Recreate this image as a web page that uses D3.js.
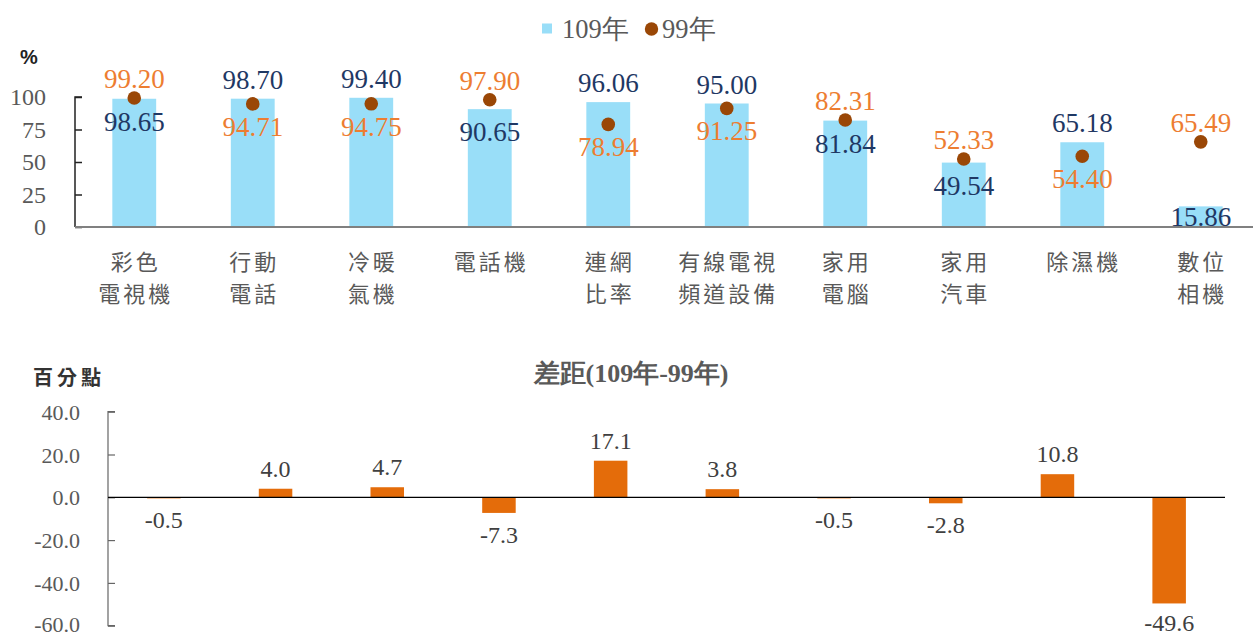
<!DOCTYPE html>
<html><head><meta charset="utf-8">
<script src="https://cdn.jsdelivr.net/npm/d3@7/dist/d3.min.js"></script>
<style>body{margin:0;background:#fff}svg{display:block}</style>
</head><body>
<svg id="c" width="1253" height="637"></svg>
<script>
const categories = [["彩色","電視機"],["行動","電話"],["冷暖","氣機"],["電話機"],["連網","比率"],["有線電視","頻道設備"],["家用","電腦"],["家用","汽車"],["除濕機"],["數位","相機"]];
const values109 = [98.65, 98.70, 99.40, 90.65, 96.06, 95.00, 81.84, 49.54, 65.18, 15.86];
const values99  = [99.20, 94.71, 94.75, 97.90, 78.94, 91.25, 82.31, 52.33, 54.40, 65.49];
const diffs     = [-0.5, 4.0, 4.7, -7.3, 17.1, 3.8, -0.5, -2.8, 10.8, -49.6];
const topTicks = [0, 25, 50, 75, 100];
const bottomTicks = [40, 20, 0, -20, -40, -60];
const seriesNames = ["109年", "99年"];

const svg = d3.select("#c");
const serif = "'Liberation Serif','Times New Roman',serif";
const cjk = "'Noto Sans CJK TC','Noto Sans CJK SC',sans-serif";
const gray = "#595959";
const navy = "#1F3864", orange = "#ED7D31";
const blue = "#99DEF8", brown = "#9A4706", barOrange = "#E46C0A";
const idx = d3.range(categories.length);

// ---------- top chart ----------
const x1 = d3.scaleBand().domain(idx).range([75, 1260]).paddingInner(0.63).paddingOuter(0.315);
const y1 = d3.scaleLinear().domain([0, 100]).range([227, 97]);

const gTop = svg.append("g");
gTop.selectAll("rect.b").data(idx).join("rect")
  .attr("x", i => x1(i)).attr("width", x1.bandwidth())
  .attr("y", i => y1(values109[i])).attr("height", i => y1(0) - y1(values109[i]))
  .attr("fill", blue);
gTop.selectAll("circle.d").data(idx).join("circle")
  .attr("cx", i => x1(i) + x1.bandwidth()/2).attr("cy", i => y1(values99[i]))
  .attr("r", 6.8).attr("fill", brown);

// labels
idx.forEach(i => {
  const cx = x1(i) + x1.bandwidth()/2;
  const barHigher = values109[i] >= values99[i];
  const hi = barHigher ? values109[i] : values99[i];
  const lo = barHigher ? values99[i] : values109[i];
  const hiCol = barHigher ? navy : orange;
  const loCol = barHigher ? orange : navy;
  gTop.append("text").attr("x", cx).attr("y", y1(hi) - 10)
    .attr("text-anchor", "middle").attr("font-family", serif).attr("font-size", 27)
    .attr("fill", hiCol).text(hi.toFixed(2));
  gTop.append("text").attr("x", cx).attr("y", Math.min(y1(lo) + 32, y1(0) - 1))
    .attr("text-anchor", "middle").attr("font-family", serif).attr("font-size", 27)
    .attr("fill", loCol).text(lo.toFixed(2));
});

// axes
const yAxis1 = d3.axisRight(y1).tickValues(topTicks).tickSize(7).tickFormat("");
const ya = gTop.append("g").attr("transform", "translate(75,0)").call(yAxis1);
ya.select(".domain").attr("stroke", "#222").attr("stroke-width", 1.5).attr("d", "M7,97H0V227");
ya.selectAll(".tick line").attr("stroke", "#222").attr("stroke-width", 1.5);
gTop.selectAll("text.yt").data(topTicks).join("text")
  .attr("x", 46).attr("y", d => y1(d) + 8).attr("text-anchor", "end")
  .attr("font-family", serif).attr("font-size", 24).attr("fill", gray).text(d => d);
gTop.append("line").attr("x1", 75).attr("x2", 1253).attr("y1", y1(0)).attr("y2", y1(0))
  .attr("stroke", "#808080").attr("stroke-width", 2);

// category labels
idx.forEach(i => {
  const cx = x1(i) + x1.bandwidth()/2;
  categories[i].forEach((line, k) => {
    gTop.append("text").attr("x", cx + 1.5).attr("y", 270 + k*32)
      .attr("text-anchor", "middle").attr("font-family", cjk).attr("font-size", 22)
      .attr("letter-spacing", 3).attr("fill", gray).text(line);
  });
});

// % label
gTop.append("text").attr("x", 20).attr("y", 64).attr("font-family", "'Liberation Sans',Arial,sans-serif")
  .attr("font-weight", "bold").attr("font-size", 20).attr("fill", "#222").text("%");

// legend
const lg = gTop.append("g");
lg.append("rect").attr("x", 542).attr("y", 23.5).attr("width", 10).attr("height", 10).attr("fill", blue);
lg.append("text").attr("x", 562).attr("y", 38).attr("font-family", serif).attr("font-size", 26.5).attr("fill", gray).text(seriesNames[0]);
lg.append("circle").attr("cx", 651.5).attr("cy", 29).attr("r", 6.7).attr("fill", brown);
lg.append("text").attr("x", 662).attr("y", 38).attr("font-family", serif).attr("font-size", 26.5).attr("fill", gray).text(seriesNames[1]);

// ---------- bottom chart ----------
const x2 = d3.scaleBand().domain(idx).range([108, 1225]).paddingInner(0.7).paddingOuter(0.35);
const y2 = d3.scaleLinear().domain([-60, 40]).range([625.7, 411.7]);
const gBot = svg.append("g");

gBot.append("text").attr("x", 631).attr("y", 382).attr("text-anchor", "middle")
  .attr("font-family", serif).attr("font-weight", "bold").attr("font-size", 26).attr("fill", gray)
  .text("差距(109年-99年)");
gBot.append("text").attr("x", 33).attr("y", 385)
  .attr("font-family", cjk).attr("font-weight", "bold").attr("font-size", 20).attr("letter-spacing", 4).attr("fill", "#333").text("百分點");

gBot.selectAll("rect").data(idx).join("rect")
  .attr("x", i => x2(i)).attr("width", x2.bandwidth())
  .attr("y", i => y2(Math.max(0, diffs[i])))
  .attr("height", i => Math.abs(y2(diffs[i]) - y2(0)))
  .attr("fill", barOrange);

const yAxis2 = d3.axisRight(y2).tickValues(bottomTicks).tickSize(7).tickFormat("");
const yb = gBot.append("g").attr("transform", "translate(108,0)").call(yAxis2);
yb.select(".domain").attr("stroke", "#666").attr("stroke-width", 1.2).attr("d", `M7,${y2(40)}H0V${y2(-60)}H7`);
yb.selectAll(".tick line").attr("stroke", "#666").attr("stroke-width", 1.2);
gBot.selectAll("text.yt").data(bottomTicks).join("text")
  .attr("x", 80).attr("y", d => Math.min(y2(d) + 8, 632)).attr("text-anchor", "end")
  .attr("font-family", serif).attr("font-size", 22).attr("fill", gray).text(d => d.toFixed(1));
gBot.append("line").attr("x1", 108).attr("x2", 1225).attr("y1", y2(0)).attr("y2", y2(0))
  .attr("stroke", "#000").attr("stroke-width", 1.3);

gBot.selectAll("text.v").data(idx).join("text")
  .attr("x", i => x2(i) + x2.bandwidth()/2)
  .attr("y", i => diffs[i] >= 0 ? y2(diffs[i]) - 12 : Math.min(y2(diffs[i]) + 30, 631))
  .attr("text-anchor", "middle").attr("font-family", serif).attr("font-size", 24).attr("fill", "#404040")
  .text(i => diffs[i].toFixed(1));
</script>
</body></html>
